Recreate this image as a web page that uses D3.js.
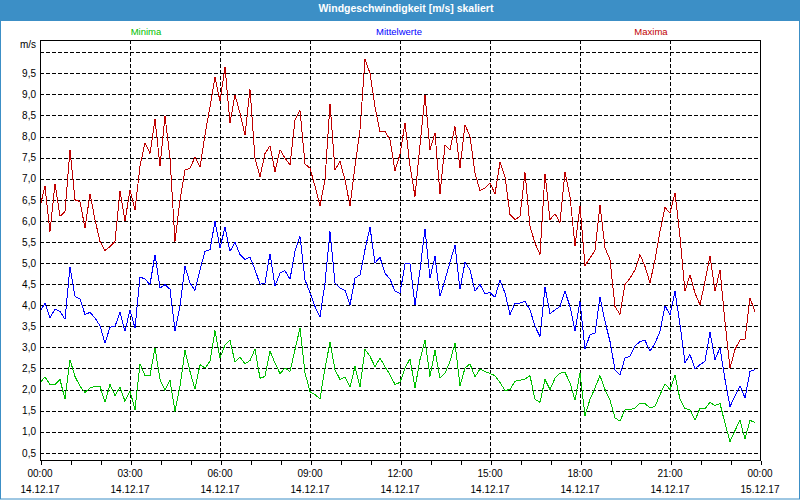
<!DOCTYPE html>
<html>
<head>
<meta charset="utf-8">
<script src="https://cdn.jsdelivr.net/npm/d3@7"></script>
<style>
  html, body { margin: 0; padding: 0; background: #fff; }
  svg { display: block; font-family: "Liberation Sans", Arial, sans-serif; }
</style>
</head>
<body>
<svg id="chart" width="800" height="500"></svg>
<script>
// Windgeschwindigkeit, 10-Minuten-Werte vom 14.12.17

const chartTitle = "Windgeschwindigkeit [m/s] skaliert";
const seriesNames = ["Minima", "Mittelwerte", "Maxima"];
const seriesColors = ["#00c000", "#0000ff", "#c00000"];
const unitLabel = "m/s";
const yTickValues = [0.5, 1.0, 1.5, 2.0, 2.5, 3.0, 3.5, 4.0, 4.5, 5.0, 5.5, 6.0, 6.5, 7.0, 7.5, 8.0, 8.5, 9.0, 9.5];
const yGridValues = [0.5, 1.0, 1.5, 2.0, 2.5, 3.0, 3.5, 4.0, 4.5, 5.0, 5.5, 6.0, 6.5, 7.0, 7.5, 8.0, 8.5, 9.0, 9.5, 10.0];

// one value every 10 minutes, 00:00 .. 23:50
const maxima = [
  6.34, 6.82, 5.75, 6.88, 6.11, 6.22, 7.69, 6.50, 6.46, 5.83, 6.64, 6.03, 5.51, 5.30, 5.39, 5.51, 6.70, 5.99,
  6.74, 6.26, 7.30, 7.85, 7.60, 8.41, 7.30, 8.49, 7.49, 5.51, 6.50, 7.21, 7.25, 7.51, 7.27, 8.04, 8.71, 9.40,
  8.84, 9.65, 8.32, 8.99, 8.55, 8.04, 9.12, 7.49, 7.05, 7.60, 7.78, 7.17, 7.69, 7.49, 7.33, 8.40, 8.62, 7.35,
  7.25, 6.82, 6.36, 6.97, 8.78, 7.21, 7.41, 6.97, 6.36, 7.29, 8.16, 9.83, 9.50, 8.71, 8.12, 8.12, 7.92, 7.19,
  7.58, 8.32, 7.30, 6.58, 7.80, 8.99, 7.69, 8.08, 6.64, 7.80, 7.69, 8.24, 7.25, 8.28, 8.00, 7.13, 6.72, 6.78,
  6.90, 6.64, 7.39, 7.05, 6.15, 6.03, 6.11, 7.15, 5.87, 5.47, 5.20, 7.12, 6.03, 6.17, 5.96, 7.17, 6.58, 5.40,
  6.35, 4.94, 5.12, 5.30, 6.38, 5.36, 5.08, 3.97, 3.78, 4.49, 4.64, 4.84, 5.20, 4.92, 4.53, 5.08, 5.75, 6.32,
  6.18, 6.67, 5.63, 4.33, 4.72, 4.29, 4.01, 4.57, 5.17, 4.33, 4.84, 3.60, 2.51, 2.95, 3.18, 3.20, 4.17, 3.85
];
const mittelwerte = [
  3.85, 4.05, 3.70, 3.91, 3.85, 3.67, 4.91, 4.21, 4.15, 3.78, 3.83, 3.70, 3.51, 3.10, 3.48, 3.50, 3.83, 3.38,
  3.89, 3.46, 4.67, 4.62, 4.49, 5.20, 4.41, 4.49, 4.38, 3.40, 3.97, 4.92, 4.53, 4.35, 4.84, 5.28, 5.32, 5.99,
  5.36, 5.85, 5.28, 5.49, 5.20, 5.09, 5.14, 4.84, 4.50, 4.53, 5.22, 4.46, 4.76, 4.82, 4.62, 5.28, 5.63, 4.60,
  4.30, 3.97, 3.72, 4.53, 5.75, 4.53, 4.41, 4.35, 4.01, 4.64, 4.72, 5.32, 5.85, 5.00, 5.14, 4.76, 4.62, 4.33,
  4.28, 4.98, 4.98, 4.01, 4.84, 5.81, 4.64, 5.16, 4.21, 4.60, 5.02, 5.42, 4.38, 5.02, 4.84, 4.33, 4.49, 4.27,
  4.30, 4.19, 4.60, 4.29, 3.78, 4.05, 4.05, 4.09, 3.89, 3.50, 3.26, 4.43, 3.80, 3.89, 3.97, 4.33, 3.97, 3.40,
  4.09, 2.96, 3.30, 3.34, 4.19, 3.62, 3.14, 2.47, 2.35, 2.75, 2.79, 3.03, 3.14, 3.17, 2.91, 3.10, 3.38, 3.99,
  3.77, 4.33, 3.54, 2.63, 2.83, 2.49, 2.59, 2.67, 3.36, 2.71, 2.99, 2.24, 1.60, 1.84, 2.09, 1.80, 2.43, 2.47
];
const minima = [
  2.16, 2.30, 2.12, 2.12, 2.24, 1.77, 2.71, 2.31, 2.08, 1.93, 2.04, 2.08, 2.08, 1.70, 2.12, 1.86, 2.06, 1.72,
  1.97, 1.52, 2.61, 2.33, 2.33, 2.99, 2.24, 1.98, 2.22, 1.48, 2.08, 2.93, 2.43, 2.01, 2.59, 2.51, 2.67, 3.40,
  2.75, 3.06, 3.17, 2.65, 2.77, 2.61, 2.69, 2.96, 2.27, 2.31, 2.91, 2.63, 2.38, 2.51, 2.43, 2.95, 3.46, 2.40,
  1.95, 1.88, 1.78, 2.51, 3.12, 2.47, 2.24, 2.30, 2.06, 2.55, 2.06, 2.95, 2.79, 2.54, 2.75, 2.54, 2.35, 2.12,
  2.17, 2.51, 2.73, 2.04, 2.71, 3.17, 2.31, 2.93, 2.27, 2.39, 2.67, 3.10, 2.09, 2.51, 2.61, 2.30, 2.49, 2.43,
  2.38, 2.33, 2.17, 1.98, 2.00, 2.20, 2.22, 2.25, 2.33, 1.77, 1.70, 2.24, 2.00, 2.27, 2.39, 2.41, 2.16, 1.75,
  2.39, 1.38, 1.77, 2.04, 2.33, 2.00, 1.75, 1.33, 1.25, 1.52, 1.52, 1.56, 1.68, 1.67, 1.56, 1.60, 1.88, 2.14,
  2.00, 2.35, 1.77, 1.55, 1.52, 1.27, 1.56, 1.54, 1.70, 1.62, 1.67, 1.20, 0.77, 1.03, 1.27, 0.83, 1.27, 1.22
];

const startTime = new Date(2017, 11, 14, 0, 0);
const endTime = new Date(2017, 11, 15, 0, 0);
const times = maxima.map((_, i) => d3.timeMinute.offset(startTime, i * 10));

const W = 800, H = 500;
const plot = { left: 40, right: 760, top: 40, bottom: 460 };
const frameColor = "#3c8fc6";

const svg = d3.select("#chart");

// window frame + title bar
svg.append("rect")
  .attr("x", 0).attr("y", 0).attr("width", W).attr("height", H)
  .attr("fill", "#fff");
svg.append("rect")
  .attr("x", 0).attr("y", 0).attr("width", W).attr("height", 21)
  .attr("fill", frameColor);
svg.append("rect")
  .attr("x", 0.5).attr("y", 0.5).attr("width", W - 1).attr("height", H - 1.5)
  .attr("fill", "none").attr("stroke", frameColor);
svg.append("text")
  .attr("x", W / 2 + 6).attr("y", 11.5)
  .attr("text-anchor", "middle")
  .attr("fill", "#fff")
  .attr("font-weight", "bold")
  .attr("font-size", "10.5px")
  .text(chartTitle);

// scales
const x = d3.scaleTime().domain([startTime, endTime]).range([plot.left, plot.right]);
const y = d3.scaleLinear().domain([0.33, 10.29]).range([plot.bottom, plot.top]);

// horizontal grid
svg.append("g")
  .selectAll("line")
  .data(yGridValues)
  .join("line")
  .attr("x1", plot.left).attr("x2", plot.right)
  .attr("y1", d => Math.round(y(d)) + 0.5)
  .attr("y2", d => Math.round(y(d)) + 0.5)
  .attr("stroke", "#000")
  .attr("stroke-dasharray", "4,2")
  .attr("shape-rendering", "crispEdges");

// vertical grid every 3 hours
svg.append("g")
  .selectAll("line")
  .data(d3.timeHour.every(3).range(d3.timeHour.offset(startTime, 3), endTime))
  .join("line")
  .attr("x1", d => Math.round(x(d)) + 0.5)
  .attr("x2", d => Math.round(x(d)) + 0.5)
  .attr("y1", plot.top).attr("y2", plot.bottom)
  .attr("stroke", "#000")
  .attr("stroke-dasharray", "4,2")
  .attr("shape-rendering", "crispEdges");

// series lines
const series = [minima, mittelwerte, maxima];
const line = d3.line()
  .x((d, i) => x(times[i]))
  .y(d => y(d));

svg.append("g")
  .selectAll("path")
  .data(series)
  .join("path")
  .attr("d", d => line(d))
  .attr("fill", "none")
  .attr("stroke", (d, i) => seriesColors[i])
  .attr("stroke-width", 1)
  .attr("shape-rendering", "crispEdges");

// plot frame
svg.append("rect")
  .attr("x", plot.left + 0.5).attr("y", plot.top + 0.5)
  .attr("width", plot.right - plot.left).attr("height", plot.bottom - plot.top)
  .attr("fill", "none").attr("stroke", "#000")
  .attr("shape-rendering", "crispEdges");

// x axis: hourly ticks, labels every 3 hours
const xAxis = d3.axisBottom(x)
  .ticks(d3.timeHour.every(1))
  .tickSize(4)
  .tickFormat("");
const gx = svg.append("g")
  .attr("transform", `translate(0.5,${plot.bottom + 0.5})`)
  .call(xAxis);
gx.select(".domain").remove();
gx.selectAll(".tick line").attr("stroke", "#000").attr("shape-rendering", "crispEdges");

const fmtTime = d3.timeFormat("%H:%M");
const fmtDate = d3.timeFormat("%d.%m.%y");
const labelTicks = d3.timeHour.every(3).range(startTime, d3.timeMinute.offset(endTime, 1));
const xl = svg.append("g")
  .attr("font-size", "10px")
  .attr("fill", "#000")
  .attr("text-anchor", "middle");
xl.selectAll("text.t")
  .data(labelTicks)
  .join("text")
  .attr("class", "t")
  .attr("x", d => x(d))
  .attr("y", 477)
  .text(d => fmtTime(d));
xl.selectAll("text.d")
  .data(labelTicks)
  .join("text")
  .attr("class", "d")
  .attr("x", d => x(d))
  .attr("y", 493)
  .text(d => fmtDate(d));

// y axis labels
const yAxis = d3.axisLeft(y)
  .tickValues(yTickValues)
  .tickSize(0)
  .tickPadding(4)
  .tickFormat(d => d3.format(".1f")(d).replace(".", ","));
const gy = svg.append("g")
  .attr("transform", `translate(${plot.left},0)`)
  .call(yAxis);
gy.select(".domain").remove();
gy.selectAll("text")
  .attr("font-size", "10px")
  .attr("font-family", "'Liberation Sans', Arial, sans-serif")
  .attr("fill", "#000");

svg.append("text")
  .attr("x", 36).attr("y", 48)
  .attr("text-anchor", "end")
  .attr("font-size", "10px")
  .text(unitLabel);

// legend
const legendX = [146, 399, 651];
svg.append("g")
  .selectAll("text")
  .data(seriesNames)
  .join("text")
  .attr("x", (d, i) => legendX[i])
  .attr("y", 34.5)
  .attr("text-anchor", "middle")
  .attr("font-size", "9.5px")
  .attr("fill", (d, i) => seriesColors[i])
  .text(d => d);
</script>
</body>
</html>
